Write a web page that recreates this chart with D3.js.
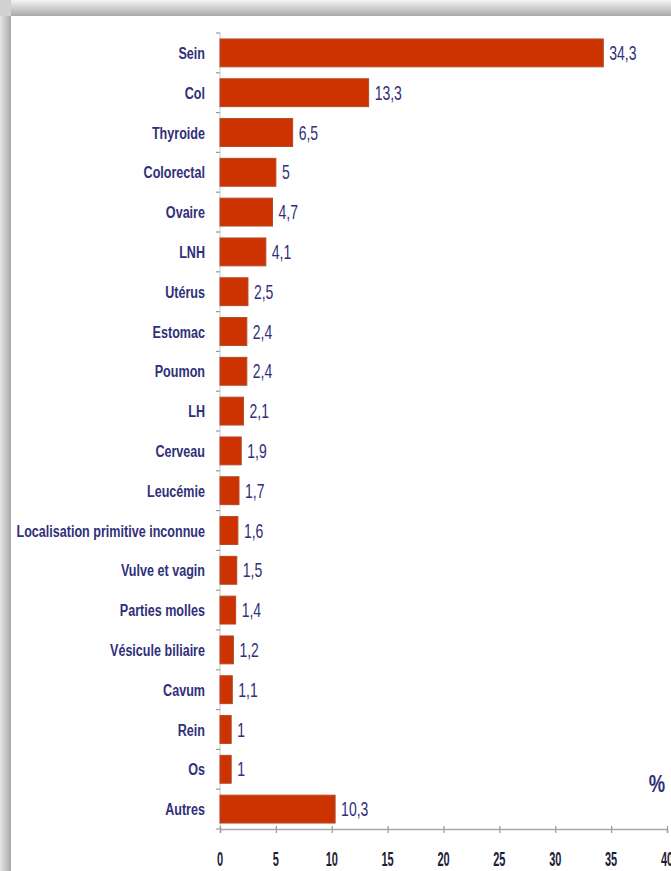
<!DOCTYPE html>
<html>
<head>
<meta charset="utf-8">
<script src="https://cdn.jsdelivr.net/npm/d3@7"></script>
<style>
  html, body { margin: 0; padding: 0; background: #ffffff; }
  svg { display: block; }
</style>
</head>
<body>
<svg id="chart" width="671" height="871"></svg>
<script>
// Localisations of cancers, share in percent
const categories = [
  "Sein", "Col", "Thyroide", "Colorectal", "Ovaire", "LNH", "Utérus",
  "Estomac", "Poumon", "LH", "Cerveau", "Leucémie",
  "Localisation primitive inconnue", "Vulve et vagin", "Parties molles",
  "Vésicule biliaire", "Cavum", "Rein", "Os", "Autres"
];
const values = [
  34.3, 13.3, 6.5, 5, 4.7, 4.1, 2.5, 2.4, 2.4, 2.1, 1.9, 1.7,
  1.6, 1.5, 1.4, 1.2, 1.1, 1, 1, 10.3
];
const xTicks = [0, 5, 10, 15, 20, 25, 30, 35, 40];
const unitLabel = "%";

const W = 671, H = 871;
const svg = d3.select("#chart");
const navy = "#30307a";
const fmt = v => String(v).replace(".", ",");

// Framed panel with a soft shadow on its top and left edges
const defs = svg.append("defs");
const gTop = defs.append("linearGradient").attr("id", "shTop")
  .attr("x1", 0).attr("y1", 0).attr("x2", 0).attr("y2", 1);
gTop.append("stop").attr("offset", "0%").attr("stop-color", "#f4f4f4");
gTop.append("stop").attr("offset", "100%").attr("stop-color", "#a9a9a9");
const gLeft = defs.append("linearGradient").attr("id", "shLeft")
  .attr("x1", 0).attr("y1", 0).attr("x2", 1).attr("y2", 0);
gLeft.append("stop").attr("offset", "0%").attr("stop-color", "#e6e6e6");
gLeft.append("stop").attr("offset", "100%").attr("stop-color", "#a9a9a9");

svg.append("rect").attr("x", 0).attr("y", 0).attr("width", W).attr("height", H)
  .attr("fill", "#ffffff");
svg.append("rect").attr("x", 0).attr("y", 0).attr("width", W).attr("height", 16)
  .attr("fill", "url(#shTop)");
svg.append("rect").attr("x", 0).attr("y", 0).attr("width", 11).attr("height", H)
  .attr("fill", "url(#shLeft)");
svg.append("rect").attr("x", 0).attr("y", 0).attr("width", 11).attr("height", 16)
  .attr("fill", "#d2d2d2");

// Scales
const x = d3.scaleLinear().domain([0, 40]).range([220, 667]);
const y = d3.scaleBand().domain(categories).range([33, 829]).paddingInner(0.3).paddingOuter(0.15);

// Y axis: light line with small ticks between categories
const bandStep = y.step();
const yAxisG = svg.append("g");
yAxisG.append("line")
  .attr("x1", x(0)).attr("x2", x(0))
  .attr("y1", y.range()[0]).attr("y2", y.range()[1])
  .attr("stroke", "#c8c8c8").attr("stroke-width", 1);
yAxisG.selectAll("line.tk")
  .data(d3.range(categories.length + 1))
  .join("line").attr("class", "tk")
  .attr("x1", x(0) - 4).attr("x2", x(0))
  .attr("y1", i => y.range()[0] + i * bandStep)
  .attr("y2", i => y.range()[0] + i * bandStep)
  .attr("stroke", "#9a9a9a").attr("stroke-width", 1.2);

// X axis
const xAxis = d3.axisBottom(x).tickValues(xTicks).tickSize(4).tickPadding(0).tickFormat("");
const xAxisG = svg.append("g").attr("transform", `translate(0,${y.range()[1]})`).call(xAxis);
xAxisG.select(".domain").attr("stroke", "#a8a8a8").attr("stroke-width", 1.5);
xAxisG.selectAll(".tick line").attr("stroke", "#9a9a9a").attr("stroke-width", 1.2)
  .attr("y1", -3).attr("y2", 4);

// Tick labels: tall narrow digits
svg.append("g").selectAll("g")
  .data(xTicks)
  .join("g")
  .attr("transform", d => `translate(${x(d)},866) scale(0.55,1)`)
  .append("text")
  .attr("text-anchor", "middle")
  .attr("font-family", "Liberation Sans, Arial, sans-serif")
  .attr("font-size", 20)
  .attr("font-weight", "bold")
  .attr("fill", "#1e1e3c")
  .text(d => d);

// Bars
svg.append("g").selectAll("rect")
  .data(values)
  .join("rect")
  .attr("x", x(0))
  .attr("y", (d, i) => y(categories[i]))
  .attr("width", d => x(d) - x(0))
  .attr("height", y.bandwidth())
  .attr("fill", "#cc3300")
  .attr("stroke", "#b3482a")
  .attr("stroke-width", 1);

// Category labels, right aligned against the axis
const catLabels = svg.append("g").selectAll("g")
  .data(categories)
  .join("g")
  .attr("transform", d => `translate(205,${y(d) + y.bandwidth() / 2 + 6}) scale(0.74,1)`);
catLabels.append("text")
  .attr("text-anchor", "end")
  .attr("font-family", "Liberation Sans, Arial, sans-serif")
  .attr("font-size", 17)
  .attr("font-weight", "bold")
  .attr("fill", navy)
  .text(d => d);

// Value labels at the end of each bar
svg.append("g").selectAll("g")
  .data(values)
  .join("g")
  .attr("transform", (d, i) => `translate(${x(d) + 6},${y(categories[i]) + y.bandwidth() / 2 + 7}) scale(0.7,1)`)
  .append("text")
  .attr("font-family", "Liberation Sans, Arial, sans-serif")
  .attr("font-size", 20)
  .attr("fill", navy)
  .text(d => fmt(d));

// Unit label
svg.append("g")
  .attr("transform", `translate(657,792) scale(0.8,1)`)
  .append("text")
  .attr("text-anchor", "middle")
  .attr("font-family", "Liberation Sans, Arial, sans-serif")
  .attr("font-size", 23)
  .attr("font-weight", "bold")
  .attr("fill", navy)
  .text(unitLabel);
</script>
</body>
</html>
